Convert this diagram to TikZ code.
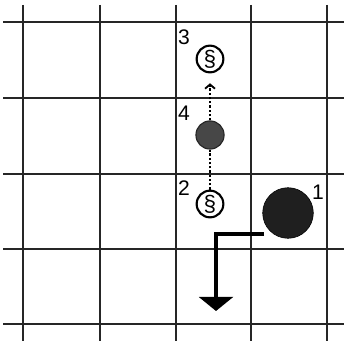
\documentclass[tikz,border=0pt]{standalone}
\usepackage{fontspec}
\setmainfont{Liberation Sans}
\usetikzlibrary{arrows.meta}

\begin{document}
\begin{tikzpicture}[x=0.025cm,y=-0.025cm,
  gridline/.style={draw=black!85,line width=1.7pt},
  opencoin/.style={circle,draw=black,line width=1.5pt,fill=white,inner sep=0pt,minimum size=19pt,font=\fontsize{16}{17}\selectfont},
  darkcoin/.style={circle,draw=black!85,line width=0.8pt,fill=black!72,inner sep=0pt,minimum size=20pt},
  bigcoin/.style={circle,draw=black,fill=black!88,inner sep=0pt,minimum size=36pt},
  num/.style={font=\fontsize{15}{17}\selectfont,inner sep=0pt},
  trail/.style={line width=2pt,dash pattern=on 1.7pt off 1.3pt},
  move/.style={line width=2.6pt}]
\useasboundingbox (0,0) rectangle (346,346);
\fill[white] (0,0) rectangle (346,346);
% grid
\foreach \gx in {23,100,176,251,327} {
  \draw[gridline] (\gx,5) -- (\gx,341);
}
\foreach \gy in {22,98,174,249,324} {
  \draw[gridline] (3,\gy) -- (344,\gy);
}
% positions
\node[opencoin] (c3) at (210,59) {\S};
\node[darkcoin] (c4) at (210,135) {};
\node[opencoin] (c2) at (210,204) {\S};
\node[bigcoin] (c1) at (288,213) {};
\node[num] (l3) at (184,37) {3};
\node[num] (l4) at (184,113) {4};
\node[num] (l2) at (184,188) {2};
\node[num] (l1) at (318,192) {1};
% moves
\draw[trail] (c2) -- (c4);
\draw[trail,-{Straight Barb[length=3pt,width=7pt,line width=1.3pt]},shorten >=7pt] (c4) -- (c3);
\coordinate (start) at (264,234);
\coordinate (drop) at (216,311);
\draw[move,-{Triangle[length=10pt,width=24pt]}] (start) -| (drop);
\end{tikzpicture}
\end{document}
